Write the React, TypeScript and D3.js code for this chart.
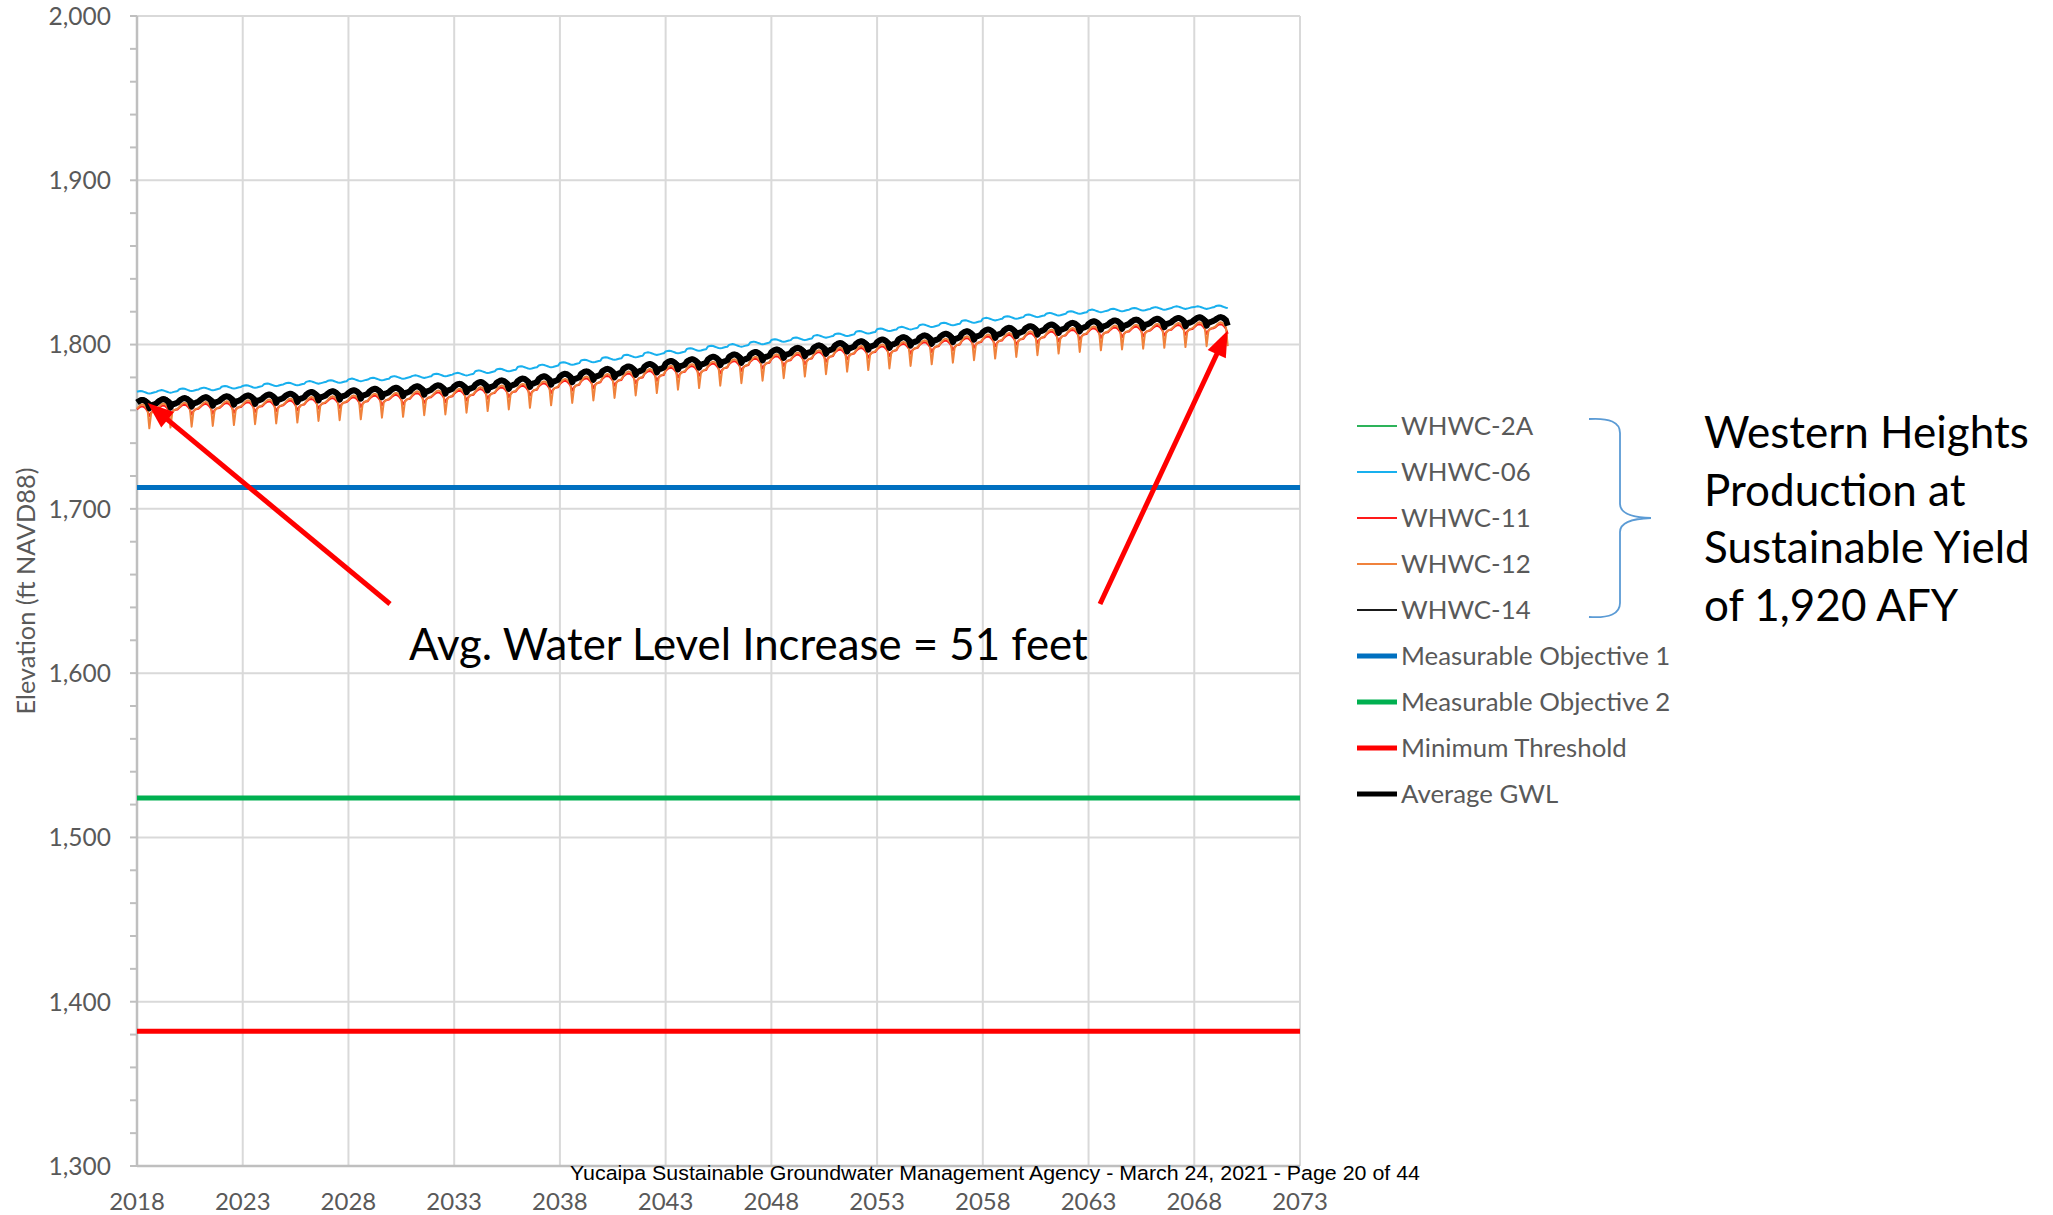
import React, { useEffect } from "react";
import { scaleLinear, line, range, mean } from "d3";

// Yearly levels (ft NAVD88), 2018 .. 2069
const firstYear = 2018;
const lastYear = 2069;
const lastMonth = 7; // record stops in Aug 2069

const clusterTrend = [
  1765.5, 1766, 1766.5, 1767, 1767.5, 1768, 1768.5, 1769, 1770, 1770.5,
  1771, 1772, 1772.5, 1773.5, 1774, 1775, 1776, 1777, 1778, 1779.5,
  1781, 1782.5, 1784, 1785.5, 1787, 1789, 1790, 1791.5, 1793, 1794.5,
  1796, 1797, 1798.5, 1800, 1801, 1802, 1803.5, 1804.5, 1805.5, 1807,
  1808, 1809, 1810, 1811, 1812, 1813, 1813.5, 1814, 1814.5, 1815,
  1815.5, 1815.5,
];

const whwc06Trend = [
  1771, 1771.5, 1772.5, 1773, 1774, 1774.5, 1775.5, 1776, 1777, 1777.5,
  1778.5, 1779, 1780, 1780.5, 1781.5, 1782, 1783.5, 1784.5, 1786, 1787,
  1788.5, 1790, 1791.5, 1793, 1794.5, 1795.5, 1797, 1798.5, 1799.5, 1801,
  1802.5, 1803.5, 1805, 1806, 1807.5, 1809, 1810, 1811.5, 1812.5, 1814,
  1815.5, 1816.5, 1817.5, 1818.5, 1819.5, 1820.5, 1821, 1821.5, 1822, 1822.5,
  1822.5, 1823,
];

// Month-by-month swing of each well (Jan..Dec), ft relative to its trend
const whwc2ASeason = [-0.6, 0.0, 0.6, 1.0, 1.0, 0.6, 0.0, -0.6, -1.4, -2.0, -1.8, -1.2];
const whwc06Season = [0.3, 0.6, 0.8, 0.6, 0.2, -0.2, -0.6, -0.8, -0.6, -0.3, 0, 0.2];
const whwc11Season = [-5.0, -4.0, -3.3, -3.1, -3.5, -4.5, -6.0, -9.0, -7.0, -6.0, -5.7, -5.5];
const whwc12Season = [-4.5, -3.3, -2.3, -1.9, -2.3, -3.5, -5.0, -16.5, -7.5, -6.0, -5.5, -5.0];
const whwc14Season = [0.3, 1.0, 1.6, 2.0, 1.8, 1.2, 0.5, -0.3, -1.2, -2.2, -1.4, -0.4];

// Threshold levels
const measurableObjective1 = 1713;
const measurableObjective2 = 1524;
const minimumThreshold = 1382;

const yTicks = [1300, 1400, 1500, 1600, 1700, 1800, 1900, 2000];
const xTickYears = [2018, 2023, 2028, 2033, 2038, 2043, 2048, 2053, 2058, 2063, 2068, 2073];

const rightNote = ["Western Heights", "Production at", "Sustainable Yield", "of 1,920 AFY"];

interface Point {
  t: number;
  v: number;
}

function buildSeries(trend: number[], season: number[]): Point[] {
  const out: Point[] = [];
  for (let y = firstYear; y <= lastYear; y++) {
    const months = y === lastYear ? lastMonth + 1 : 12;
    for (let m = 0; m < months; m++) {
      out.push({ t: y + m / 12, v: trend[y - firstYear] + season[m] });
    }
  }
  return out;
}

const wells = [
  { name: "WHWC-2A", color: "#2DB35A", data: buildSeries(clusterTrend, whwc2ASeason) },
  { name: "WHWC-06", color: "#18B0EE", data: buildSeries(whwc06Trend, whwc06Season) },
  { name: "WHWC-11", color: "#FF1A1A", data: buildSeries(clusterTrend, whwc11Season) },
  { name: "WHWC-12", color: "#F0823C", data: buildSeries(clusterTrend, whwc12Season) },
  { name: "WHWC-14", color: "#1A1A1A", data: buildSeries(clusterTrend, whwc14Season) },
];

const averageGWL: Point[] = wells[0].data.map((p, i) => ({
  t: p.t,
  v: mean(wells, (w) => w.data[i].v) ?? p.v,
}));

const W = 2053;
const H = 1215;
const plot = { left: 137, right: 1300, top: 16, bottom: 1166 };

export default function App() {
  useEffect(() => {
    document.body.style.margin = "0";
  }, []);

  const x = scaleLinear().domain([2018, 2073]).range([plot.left, plot.right]);
  const y = scaleLinear().domain([1300, 2000]).range([plot.bottom, plot.top]);

  const path = line<Point>()
    .x((d) => x(d.t))
    .y((d) => y(d.v));

  const minorTicks = range(1300, 2001, 20);

  const legend = [
    ...wells.map((w) => ({ name: w.name, color: w.color, width: 2 })),
    { name: "Measurable Objective 1", color: "#0070C0", width: 5 },
    { name: "Measurable Objective 2", color: "#00B050", width: 5 },
    { name: "Minimum Threshold", color: "#FF0000", width: 5 },
    { name: "Average GWL", color: "#000000", width: 5 },
  ];

  const levels = [
    { v: measurableObjective1, color: "#0070C0" },
    { v: measurableObjective2, color: "#00B050" },
    { v: minimumThreshold, color: "#FF0000" },
  ];

  // arrows from the note to the first and last average values
  const first = averageGWL[6];
  const last = averageGWL[averageGWL.length - 1];
  const arrows = [
    { x1: 390, y1: 604, x2: x(first.t), y2: y(first.v) },
    { x1: 1100, y1: 604, x2: x(last.t), y2: y(last.v) + 5 },
  ];

  const arrowHead = (a: { x1: number; y1: number; x2: number; y2: number }) => {
    const ang = Math.atan2(a.y2 - a.y1, a.x2 - a.x1);
    const len = 26;
    const half = 10;
    const bx = a.x2 - len * Math.cos(ang);
    const by = a.y2 - len * Math.sin(ang);
    const px = -Math.sin(ang) * half;
    const py = Math.cos(ang) * half;
    return `${a.x2},${a.y2} ${bx + px},${by + py} ${bx - px},${by - py}`;
  };

  const labelFont = "Lato, 'Open Sans', sans-serif";

  return (
    <svg width={W} height={H} style={{ display: "block", background: "#fff" }}>
      {/* Grid */}
      {yTicks.map((t) => (
        <line key={`gy${t}`} x1={plot.left} x2={plot.right} y1={y(t)} y2={y(t)} stroke="#D9D9D9" strokeWidth={2} />
      ))}
      {xTickYears.map((t) => (
        <line key={`gx${t}`} x1={x(t)} x2={x(t)} y1={plot.top} y2={plot.bottom} stroke="#D9D9D9" strokeWidth={2} />
      ))}

      {/* Axes */}
      <line x1={plot.left} x2={plot.left} y1={plot.top} y2={plot.bottom} stroke="#BFBFBF" strokeWidth={2.5} />
      <line x1={plot.left} x2={plot.right} y1={plot.bottom} y2={plot.bottom} stroke="#BFBFBF" strokeWidth={2.5} />
      {minorTicks.map((t) => (
        <line key={`mt${t}`} x1={plot.left - 7} x2={plot.left} y1={y(t)} y2={y(t)} stroke="#BFBFBF" strokeWidth={2} />
      ))}

      {yTicks.map((t) => (
        <text key={`yl${t}`} x={111} y={y(t)} dy="0.36em" textAnchor="end" fill="#595959" fontSize={24.5} fontFamily={labelFont}>
          {t.toLocaleString("en-US")}
        </text>
      ))}
      {xTickYears.map((t) => (
        <text key={`xl${t}`} x={x(t)} y={1210} textAnchor="middle" fill="#595959" fontSize={24} fontFamily={labelFont}>
          {t}
        </text>
      ))}
      <text
        transform="translate(35,591) rotate(-90)"
        textAnchor="middle"
        fill="#595959"
        fontSize={25.3}
        fontFamily={labelFont}
      >
        Elevation (ft NAVD88)
      </text>

      {/* Threshold lines */}
      {levels.map((l) => (
        <line key={l.v} x1={plot.left} x2={plot.right} y1={y(l.v)} y2={y(l.v)} stroke={l.color} strokeWidth={5} />
      ))}

      {/* Well hydrographs */}
      {wells.map((w) => (
        <path key={w.name} d={path(w.data) ?? ""} fill="none" stroke={w.color} strokeWidth={2} strokeLinejoin="round" />
      ))}
      <path d={path(averageGWL) ?? ""} fill="none" stroke="#000" strokeWidth={6} strokeLinejoin="round" />

      {/* Annotation */}
      {arrows.map((a, i) => {
        const ang = Math.atan2(a.y2 - a.y1, a.x2 - a.x1);
        return (
          <g key={i}>
            <line x1={a.x1} y1={a.y1} x2={a.x2 - 20 * Math.cos(ang)} y2={a.y2 - 20 * Math.sin(ang)} stroke="#FF0000" strokeWidth={5} />
            <polygon points={arrowHead(a)} fill="#FF0000" />
          </g>
        );
      })}
      <text x={409} y={660} fontSize={43.8} fontFamily={labelFont} fill="#000">
        Avg. Water Level Increase = 51 feet
      </text>

      {/* Footer */}
      <text x={570} y={1180} fontSize={20.5} fontFamily="'Liberation Sans', Arial, sans-serif" fill="#000" textLength={850} lengthAdjust="spacingAndGlyphs">
        Yucaipa Sustainable Groundwater Management Agency - March 24, 2021 - Page 20 of 44
      </text>

      {/* Legend */}
      {legend.map((l, i) => {
        const cy = 426 + i * 46;
        return (
          <g key={l.name}>
            <line x1={1357} x2={1397} y1={cy} y2={cy} stroke={l.color} strokeWidth={l.width} />
            <text x={1401} y={cy + 9} fontSize={25.8} fontFamily={labelFont} fill="#595959">
              {l.name}
            </text>
          </g>
        );
      })}

      {/* Brace grouping the wells */}
      <path
        d="M1589,419 Q1620,417 1620,433 L1620,504 Q1620,517 1651,518 Q1620,519 1620,532 L1620,603 Q1620,619 1589,617"
        fill="none"
        stroke="#5B9BD5"
        strokeWidth={1.8}
      />
      {rightNote.map((s, i) => (
        <text key={s} x={1704} y={448 + i * 57.5} fontSize={44} fontFamily={labelFont} fill="#000">
          {s}
        </text>
      ))}
    </svg>
  );
}
